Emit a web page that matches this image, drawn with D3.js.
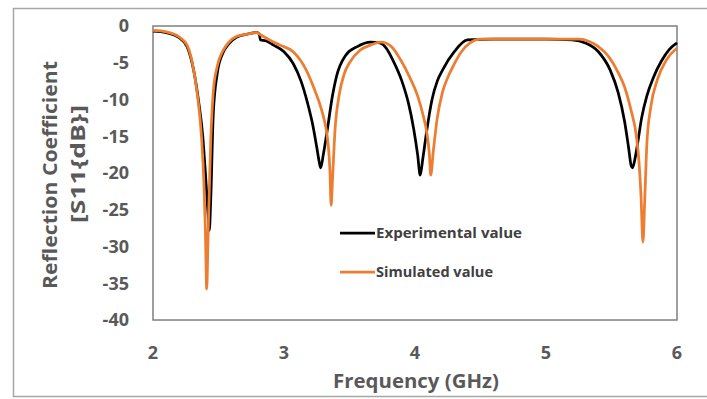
<!DOCTYPE html>
<html>
<head>
<meta charset="utf-8">
<script src="https://cdn.jsdelivr.net/npm/d3@7"></script>
<style>
  body { margin: 0; background: #fff; }
  svg { display: block; font-family: "Open Sans", "Liberation Sans", sans-serif; }
</style>
</head>
<body>
<svg id="chart" width="707" height="399"></svg>
<script>
// tick labels
const xTicks = [2, 3, 4, 5, 6];
const yTicks = [0, -5, -10, -15, -20, -25, -30, -35, -40];

// experimental (black) curve
const expFreq = [2.00, 2.10, 2.20, 2.26, 2.31, 2.35, 2.38, 2.40, 2.42, 2.43, 2.44, 2.46, 2.49, 2.53, 2.58, 2.64, 2.72, 2.79, 2.81, 2.82, 2.86, 2.92, 3.00, 3.07, 3.13, 3.18, 3.22, 3.25, 3.27, 3.28, 3.30, 3.33, 3.37, 3.40, 3.47, 3.56, 3.66, 3.73, 3.78, 3.83, 3.90, 3.95, 3.99, 4.02, 4.04, 4.06, 4.09, 4.13, 4.17, 4.21, 4.30, 4.40, 4.60, 4.80, 5.00, 5.20, 5.30, 5.40, 5.49, 5.55, 5.60, 5.63, 5.65, 5.66, 5.68, 5.70, 5.73, 5.77, 5.82, 5.88, 5.94, 6.00];
const expS11  = [-0.7, -0.9, -1.6, -2.8, -6.0, -10.5, -15.0, -20.0, -25.5, -27.8, -24.0, -12.0, -6.5, -3.8, -2.4, -1.5, -1.1, -0.9, -1.0, -1.9, -2.0, -2.6, -3.5, -5.1, -7.5, -10.5, -13.5, -16.5, -18.6, -19.3, -17.5, -14.2, -9.5, -6.9, -4.0, -2.8, -2.2, -2.3, -3.0, -4.6, -7.5, -10.5, -14.0, -17.5, -20.3, -18.0, -14.2, -10.0, -7.5, -6.0, -3.5, -1.9, -1.8, -1.8, -1.8, -1.9, -2.3, -3.5, -6.0, -9.0, -13.0, -16.5, -19.0, -19.3, -18.0, -15.9, -12.5, -9.5, -7.0, -4.8, -3.2, -2.3];

// simulated (orange) curve
const simFreq = [2.00, 2.10, 2.20, 2.26, 2.30, 2.34, 2.37, 2.39, 2.40, 2.41, 2.42, 2.44, 2.46, 2.49, 2.53, 2.58, 2.64, 2.72, 2.79, 2.84, 2.89, 2.97, 3.07, 3.17, 3.23, 3.28, 3.31, 3.33, 3.35, 3.36, 3.37, 3.39, 3.42, 3.46, 3.50, 3.58, 3.66, 3.74, 3.82, 3.89, 3.96, 4.02, 4.06, 4.09, 4.11, 4.12, 4.14, 4.17, 4.21, 4.25, 4.29, 4.35, 4.42, 4.50, 4.80, 5.10, 5.25, 5.33, 5.40, 5.48, 5.55, 5.60, 5.65, 5.69, 5.71, 5.725, 5.74, 5.755, 5.77, 5.80, 5.85, 5.92, 6.00];
const simS11  = [-0.6, -0.8, -1.5, -2.6, -5.0, -9.5, -15.0, -22.0, -28.0, -35.8, -29.0, -16.0, -9.0, -5.5, -3.5, -2.2, -1.4, -1.1, -0.9, -1.4, -1.9, -2.6, -3.5, -6.0, -8.5, -11.0, -13.0, -15.0, -19.5, -24.4, -21.0, -14.0, -9.5, -6.5, -5.0, -3.3, -2.6, -2.2, -2.8, -4.6, -7.0, -9.5, -12.0, -14.5, -17.5, -20.3, -17.0, -12.5, -9.0, -7.0, -5.5, -3.6, -2.3, -1.8, -1.8, -1.8, -1.8, -2.1, -2.8, -4.2, -6.3, -8.3, -11.5, -15.0, -18.5, -23.0, -29.4, -23.0, -16.0, -11.0, -7.3, -4.6, -3.0];

const seriesNames = ["Experimental value", "Simulated value"];
const seriesColors = ["#000000", "#ED7D31"];
const legendWidths = [146, 117];

const svg = d3.select("#chart");
const textColor = "#595959";

// outer chart frame
svg.append("rect")
    .attr("x", 13.5).attr("y", 8.5)
    .attr("width", 720).attr("height", 388)
    .attr("fill", "none")
    .attr("stroke", "#a6a6a6")
    .attr("stroke-width", 1.5);

const x = d3.scaleLinear().domain([2, 6]).range([153, 677]);
const y = d3.scaleLinear().domain([-40, 0]).range([320, 26]);

// plot box
svg.append("rect")
    .attr("x", x(2)).attr("y", y(0))
    .attr("width", x(6) - x(2)).attr("height", y(-40) - y(0))
    .attr("fill", "none")
    .attr("stroke", "#7f7f7f")
    .attr("stroke-width", 1.5);

// y tick labels
svg.append("g")
    .selectAll("text")
    .data(yTicks)
    .join("text")
    .attr("x", 129)
    .attr("y", d => y(d))
    .attr("dy", "0.35em")
    .attr("text-anchor", "end")
    .attr("fill", textColor)
    .attr("font-size", 18)
    .attr("font-weight", "bold")
    .text(d => d);

// x tick labels
svg.append("g")
    .selectAll("text")
    .data(xTicks)
    .join("text")
    .attr("x", d => x(d))
    .attr("y", 359)
    .attr("text-anchor", "middle")
    .attr("fill", textColor)
    .attr("font-size", 18)
    .attr("font-weight", "bold")
    .text(d => d);

// axis titles
svg.append("text")
    .attr("x", 416).attr("y", 388)
    .attr("text-anchor", "middle")
    .attr("fill", textColor)
    .attr("font-size", 19)
    .attr("font-weight", "bold")
    .attr("textLength", 166)
    .attr("lengthAdjust", "spacingAndGlyphs")
    .text("Frequency (GHz)");

svg.append("text")
    .attr("transform", "translate(57,175) rotate(-90)")
    .attr("text-anchor", "middle")
    .attr("fill", textColor)
    .attr("font-size", 19)
    .attr("font-weight", "bold")
    .attr("textLength", 228)
    .attr("lengthAdjust", "spacingAndGlyphs")
    .text("Reflection Coefficient");

svg.append("text")
    .attr("transform", "translate(85,164) rotate(-90)")
    .attr("text-anchor", "middle")
    .attr("fill", textColor)
    .attr("font-size", 19)
    .attr("font-weight", "bold")
    .attr("textLength", 118)
    .attr("lengthAdjust", "spacingAndGlyphs")
    .text("[S11{dB}]");

// curves
const line = d3.line()
    .x(d => x(d[0]))
    .y(d => y(d[1]))
    .curve(d3.curveMonotoneX);

const curves = [
    d3.zip(expFreq, expS11),
    d3.zip(simFreq, simS11)
];

svg.append("g")
    .selectAll("path")
    .data(curves)
    .join("path")
    .attr("fill", "none")
    .attr("stroke", (d, i) => seriesColors[i])
    .attr("stroke-width", 2.75)
    .attr("stroke-linejoin", "round")
    .attr("d", line);

// legend
const legend = svg.append("g")
    .selectAll("g")
    .data(seriesNames)
    .join("g")
    .attr("transform", (d, i) => `translate(340,${233 + i * 39})`);

legend.append("line")
    .attr("x1", 0).attr("x2", 35)
    .attr("stroke", (d, i) => seriesColors[i])
    .attr("stroke-width", 2.75);

legend.append("text")
    .attr("x", 36)
    .attr("dy", "0.35em")
    .attr("fill", "#404040")
    .attr("font-size", 14)
    .attr("font-weight", "bold")
    .attr("textLength", (d, i) => legendWidths[i])
    .attr("lengthAdjust", "spacingAndGlyphs")
    .text(d => d);
</script>
</body>
</html>
